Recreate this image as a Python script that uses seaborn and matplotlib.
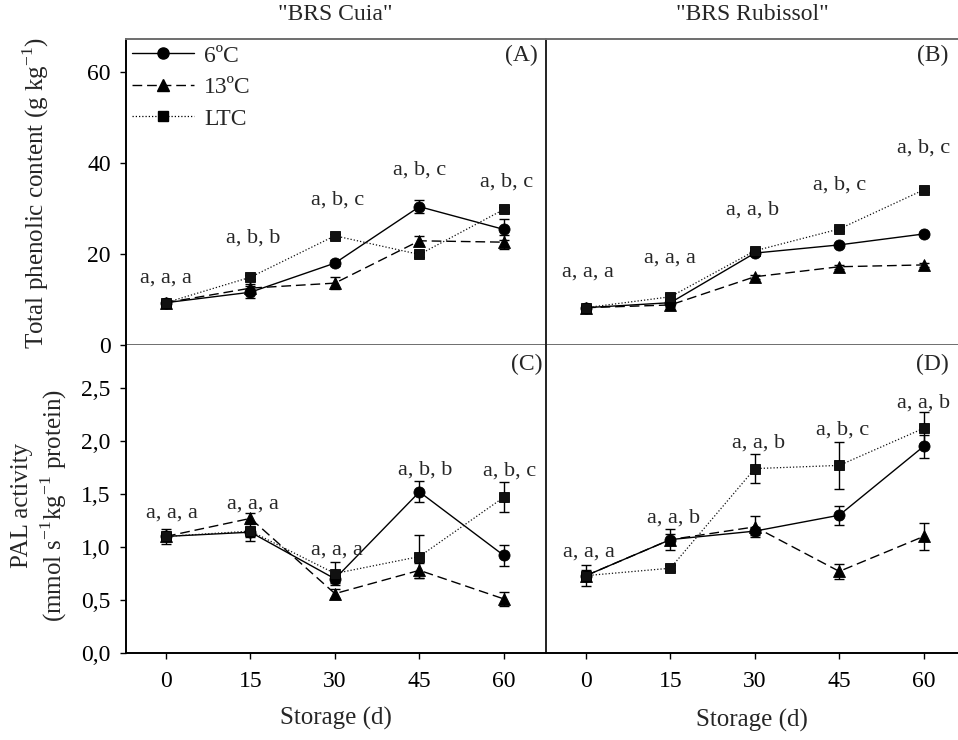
import matplotlib
matplotlib.use("Agg")
import matplotlib.pyplot as plt
import seaborn as sns
import pandas as pd
from matplotlib.lines import Line2D
from matplotlib.ticker import FixedLocator, FuncFormatter

# ---------------- data ----------------
days = [0, 15, 30, 45, 60]
treatments = ["6ºC", "13ºC", "LTC"]

# Total phenolic content (g kg-1)
phen_cuia_6 = [9.3, 11.6, 18.0, 30.4, 25.4]
phen_cuia_13 = [9.3, 12.5, 13.6, 22.9, 22.6]
phen_cuia_ltc = [9.3, 14.9, 24.0, 19.9, 29.8]
phen_cuia_6_err = [0.5, 1.3, 0.7, 1.5, 2.3]
phen_cuia_13_err = [0.4, 0.8, 1.4, 1.0, 1.5]
phen_cuia_ltc_err = [0.4, 0.5, 0.5, 0.5, 0.5]

phen_rub_6 = [8.2, 9.3, 20.2, 22.0, 24.4]
phen_rub_13 = [8.2, 8.8, 15.0, 17.2, 17.6]
phen_rub_ltc = [8.2, 10.6, 20.7, 25.5, 34.1]
phen_rub_6_err = [0.3, 0.4, 0.5, 0.4, 0.4]
phen_rub_13_err = [0.3, 0.4, 0.4, 0.4, 0.4]
phen_rub_ltc_err = [0.3, 0.5, 0.6, 0.4, 0.5]

# PAL activity (mmol s-1 kg-1 protein)
pal_cuia_6 = [1.10, 1.14, 0.70, 1.52, 0.92]
pal_cuia_13 = [1.10, 1.27, 0.56, 0.78, 0.51]
pal_cuia_ltc = [1.10, 1.15, 0.75, 0.91, 1.47]
pal_cuia_6_err = [0.07, 0.05, 0.04, 0.10, 0.10]
pal_cuia_13_err = [0.03, 0.05, 0.04, 0.07, 0.07]
pal_cuia_ltc_err = [0.04, 0.09, 0.11, 0.20, 0.14]

pal_rub_6 = [0.73, 1.07, 1.15, 1.30, 1.95]
pal_rub_13 = [0.73, 1.07, 1.19, 0.77, 1.10]
pal_rub_ltc = [0.73, 0.80, 1.74, 1.77, 2.12]
pal_rub_6_err = [0.10, 0.10, 0.04, 0.09, 0.11]
pal_rub_13_err = [0.05, 0.05, 0.10, 0.07, 0.13]
pal_rub_ltc_err = [0.03, 0.03, 0.14, 0.22, 0.15]

letters_a = ["a, a, a", "a, b, b", "a, b, c", "a, b, c", "a, b, c"]
letters_b = ["a, a, a", "a, a, a", "a, a, b", "a, b, c", "a, b, c"]
letters_c = ["a, a, a", "a, a, a", "a, a, a", "a, b, b", "a, b, c"]
letters_d = ["a, a, a", "a, a, b", "a, a, b", "a, b, c", "a, a, b"]

cultivars = ['"BRS Cuia"', '"BRS Rubissol"']
panel_tags = ["(A)", "(B)", "(C)", "(D)"]
ylabel_top = "Total phenolic content (g kg$^{\\mathregular{-1}}$)"
ylabel_bottom = "PAL activity\n(mmol s$^{\\mathregular{-1}}$kg$^{\\mathregular{-1}}$ protein)"
xlabel = "Storage (d)"

# ---------------- layout (positions of letter annotations) ----------------
lab_pos_a = ([0, 15.4, 30.4, 45.1, 60.4], [14.7, 23.5, 31.9, 38.5, 35.8])
lab_pos_b = ([0.3, 15, 29.6, 45, 60], [16.1, 19.1, 29.7, 35.2, 43.3])
lab_pos_c = ([1.0, 15.5, 30.3, 46, 61], [1.32, 1.41, 0.97, 1.73, 1.72])
lab_pos_d = ([0.6, 15.5, 30.6, 45.6, 60], [0.95, 1.27, 1.98, 2.10, 2.36])

# ---------------- style ----------------
sns.set_theme(style="white")
plt.rcParams["font.family"] = ["Liberation Serif", "DejaVu Serif"]
plt.rcParams["mathtext.fontset"] = "custom"
plt.rcParams["mathtext.rm"] = "Liberation Serif"

W, H = 958, 740
fig = plt.figure(figsize=(W / 100, H / 100), dpi=100)

def fx(px):
    return px / W

def fy(py):
    return 1 - py / H

top_b, top_t = 345, 39
bot_b, bot_t = 653, 345
lx0, lx1 = 126, 545
rx0, rx1 = 546, 960

axA = fig.add_axes([fx(lx0), fy(top_b), fx(lx1 - lx0), (top_b - top_t) / H])
axB = fig.add_axes([fx(rx0), fy(top_b), fx(rx1 - rx0), (top_b - top_t) / H])
axC = fig.add_axes([fx(lx0), fy(bot_b), fx(lx1 - lx0), (bot_b - bot_t) / H])
axD = fig.add_axes([fx(rx0), fy(bot_b), fx(rx1 - rx0), (bot_b - bot_t) / H])

markers = {"6ºC": "o", "13ºC": "^", "LTC": "s"}
dashes = {"6ºC": "", "13ºC": (7, 3.5), "LTC": (1, 1.6)}
msizes = {"6ºC": 8, "13ºC": 8, "LTC": 7}
lws = {"6ºC": 1.0, "13ºC": 1.0, "LTC": 0.9}
palette = {"6ºC": "black", "13ºC": "black", "LTC": "#111111"}

def draw(ax, series, errs, letters, labpos):
    df = pd.DataFrame({
        "day": days * 3,
        "value": series[0] + series[1] + series[2],
        "treat": [t for t in treatments for _ in days],
    })
    for s, e in zip(series, errs):
        ax.errorbar(days, s, yerr=e, fmt="none", ecolor="black",
                    elinewidth=1.0, capsize=3.5, capthick=1.0, zorder=2)
    sns.lineplot(data=df, x="day", y="value", hue="treat", style="treat",
                 hue_order=treatments, style_order=treatments,
                 palette=palette, markers=markers, dashes=dashes,
                 markeredgecolor="black", markeredgewidth=0.6,
                 legend=False, ax=ax, zorder=3, errorbar=None)
    for line, t in zip(ax.lines[-3:], treatments):
        line.set_markersize(msizes[t])
        line.set_linewidth(lws[t])
    for lab, x, y in zip(letters, labpos[0], labpos[1]):
        ax.text(x, y, lab, ha="center", va="center", fontsize=16)
    ax.set_xlabel("")
    ax.set_ylabel("")

draw(axA, [phen_cuia_6, phen_cuia_13, phen_cuia_ltc],
     [phen_cuia_6_err, phen_cuia_13_err, phen_cuia_ltc_err], letters_a, lab_pos_a)
draw(axB, [phen_rub_6, phen_rub_13, phen_rub_ltc],
     [phen_rub_6_err, phen_rub_13_err, phen_rub_ltc_err], letters_b, lab_pos_b)
draw(axC, [pal_cuia_6, pal_cuia_13, pal_cuia_ltc],
     [pal_cuia_6_err, pal_cuia_13_err, pal_cuia_ltc_err], letters_c, lab_pos_c)
draw(axD, [pal_rub_6, pal_rub_13, pal_rub_ltc],
     [pal_rub_6_err, pal_rub_13_err, pal_rub_ltc_err], letters_d, lab_pos_d)

# axis limits
for ax in (axA, axC):
    ax.set_xlim(-7.1, 67.3)
for ax in (axB, axD):
    ax.set_xlim(-7.1, 66.45)
for ax in (axA, axB):
    ax.set_ylim(0, 67.25)
for ax in (axC, axD):
    ax.set_ylim(0, 2.906)

gray = "#6e6e6e"
for ax in (axA, axB, axC, axD):
    for side in ("left", "bottom"):
        ax.spines[side].set_color("black")
        ax.spines[side].set_linewidth(1.4)
    for side in ("top", "right"):
        ax.spines[side].set_color(gray)
        ax.spines[side].set_linewidth(1.4)
    ax.set_facecolor("white")
for ax in (axA, axB):
    ax.spines["bottom"].set_color(gray)
for ax in (axC, axD):
    ax.spines["top"].set_visible(False)
for ax in (axA, axC):
    ax.spines["right"].set_visible(False)
for ax in (axB, axD):
    ax.spines["left"].set_color("#222222")

# ticks
axA.yaxis.set_major_locator(FixedLocator([0, 20, 40, 60]))
axC.yaxis.set_major_locator(FixedLocator([0, 0.5, 1.0, 1.5, 2.0, 2.5]))
axC.yaxis.set_major_formatter(FuncFormatter(lambda v, p: f"{v:.1f}".replace(".", ",")))
for ax in (axA, axC):
    ax.tick_params(axis="y", left=True, direction="out", length=4, width=1,
                   labelsize=17, pad=7, colors="black")
for ax in (axB, axD):
    ax.tick_params(axis="y", left=False, labelleft=False)
for ax in (axC, axD):
    ax.xaxis.set_major_locator(FixedLocator(days))
    ax.tick_params(axis="x", bottom=True, direction="out", length=4, width=1,
                   labelsize=17, pad=9, colors="black")
for ax in (axA, axB):
    ax.tick_params(axis="x", bottom=False, labelbottom=False)

# panel tags
axA.text(0.983, 0.945, panel_tags[0], transform=axA.transAxes, ha="right", va="center", fontsize=17)
axB.text(0.972, 0.945, panel_tags[1], transform=axB.transAxes, ha="right", va="center", fontsize=17)
axC.text(0.993, 0.938, panel_tags[2], transform=axC.transAxes, ha="right", va="center", fontsize=17)
axD.text(0.972, 0.938, panel_tags[3], transform=axD.transAxes, ha="right", va="center", fontsize=17)

# legend
handles = [Line2D([], [], color="black", marker=markers[t], markersize=msizes[t],
                  linewidth=lws[t], markeredgecolor="black",
                  linestyle="-" if t == "6ºC" else (0, dashes[t]))
           for t in treatments]
axA.legend(handles, treatments, loc="upper left", bbox_to_anchor=(0.015, 0.98),
           frameon=False, fontsize=17, handlelength=2.6, handletextpad=0.45,
           labelspacing=0.42, borderpad=0, borderaxespad=0)

# titles and labels
fig.text(fx(335.5), fy(15), cultivars[0], ha="center", va="center", fontsize=17)
fig.text(fx(752), fy(15), cultivars[1], ha="center", va="center", fontsize=17)
fig.text(fx(335.5), fy(718), xlabel, ha="center", va="center", fontsize=18)
fig.text(fx(752), fy(720), xlabel, ha="center", va="center", fontsize=18)
fig.text(fx(36), fy(193), ylabel_top, ha="center", va="center", rotation=90, fontsize=18)
fig.text(fx(40), fy(505), ylabel_bottom, ha="center", va="center", rotation=90,
         fontsize=18, multialignment="center", linespacing=1.2)

fig.savefig("out.png", dpi=100, facecolor="white")
